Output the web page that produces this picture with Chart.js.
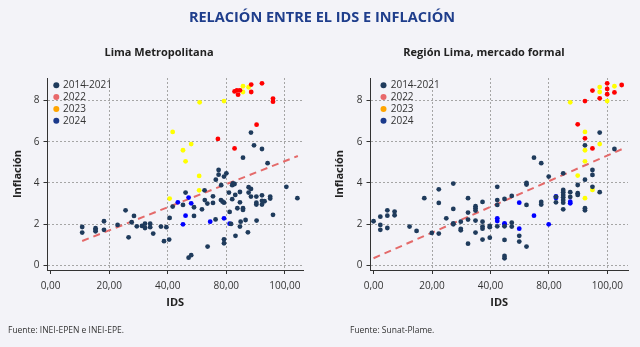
<!DOCTYPE html>
<html>
<head>
<meta charset="utf-8">
<script src="https://cdn.jsdelivr.net/npm/chart.js@4.4.1/dist/chart.umd.min.js"></script>
<style>
  body { margin: 0; background: #f3f3f8; font-family: 'Open Sans', sans-serif; }
  #wrap { position: relative; width: 640px; height: 347px; overflow: hidden; }
  canvas { position: absolute; top: 0; }
  .txt { position: absolute; white-space: nowrap; }
  .title { top: 7px; left: 2px; width: 640px; text-align: center; font-size: 14.5px; font-weight: 700; color: #1f3e8c; line-height: 20px; }
  .sub { top: 44px; width: 220px; text-align: center; font-size: 11px; font-weight: 700; color: #222; line-height: 16px; }
  .src { top: 323px; font-size: 8.5px; color: #333; line-height: 14px; }
</style>
</head>
<body>
<div id="wrap">
  <canvas id="chartLima" width="320" height="347" style="left:0"></canvas>
  <canvas id="chartRegion" width="320" height="347" style="left:320px"></canvas>
  <div class="txt title">RELACIÓN ENTRE EL IDS E INFLACIÓN</div>
  <div class="txt sub" style="left:49px">Lima Metropolitana</div>
  <div class="txt sub" style="left:374px">Región Lima, mercado formal</div>
  <div class="txt src" style="left:8px">Fuente: INEI-EPEN e INEI-EPE.</div>
  <div class="txt src" style="left:350px">Fuente: Sunat-Plame.</div>
</div>
<script>
const FONT = "'Open Sans', sans-serif";

// axis ticks (labels as printed on the original)
const xTicks = [0, 25, 50, 75, 100];
const xTickLabels = ['0,00', '20,00', '40,00', '80,00', '100,00'];
const yTicks = [0, 2, 4, 6, 8];
const yTickLabels = ['0', '2', '4', '6', '8'];

const legendLabels = ['2014-2021', '2022', '2023', '2024'];
const legendColors = ['#1f3b5c', '#e8686a', '#ffa500', '#1b3a8c'];
const pointColors = ['#1f3b5c', '#ff0000', '#ffff00', '#0000ff'];

// Lima Metropolitana: [IDS, inflacion]
const limaBase = [[13.5,1.86],[13.5,1.59],[19.2,1.80],[19.2,1.72],[19.2,1.65],[22.8,2.14],[22.8,1.72],[28.6,1.96],[32,2.67],[33.3,1.36],[35.6,2.40],[34.6,2.09],[36.8,1.89],[39,1.91],[40.3,1.81],[40.3,2.02],[42.5,2.02],[42.5,1.85],[43.8,1.54],[47.1,1.88],[48.4,1.17],[49.4,1.85],[50.6,1.25],[50.8,2.30],[52.1,2.85],[58.9,0.37],[60,0.49],[57.6,3.53],[56.5,2.93],[61.2,2.82],[61.2,2.40],[64.6,2.72],[65.7,3.64],[65.8,3.17],[66.9,3.0],[67,0.91],[69.3,3.35],[69.3,3.03],[70.4,2.23],[70.5,4.16],[71.7,4.63],[71.7,4.40],[72.7,3.17],[73.4,3.09],[74,3.04],[74,1.26],[74,1.07],[74,4.31],[75,4.47],[72.8,3.89],[76.1,3.53],[76.4,2.59],[77,2.01],[77.5,3.21],[77.5,3.89],[77.8,3.98],[78.5,3.95],[78.8,3.42],[78.9,1.43],[79.7,2.77],[80.8,3.56],[80.8,3.06],[80.8,1.88],[81.1,2.12],[82.1,5.23],[82.1,2.77],[82.1,2.69],[83.2,2.20],[84.2,1.60],[84.5,3.79],[84.5,3.53],[85.5,3.71],[85.5,3.34],[85.5,6.45],[86.8,5.83],[87.8,3.34],[87.8,3.04],[87.8,2.95],[87.9,2.17],[90.2,3.40],[90.2,3.13],[90.2,2.95],[90.2,5.65],[91.3,3.11],[92.6,4.96],[93.7,3.34],[93.7,3.24],[94.9,2.45],[100.6,3.81],[105.3,3.26]];
const lima2022 = [[71.4,6.14],[78.5,5.68],[87.9,6.83],[78.5,8.45],[79.5,8.50],[80.0,8.29],[80.8,8.50],[85.6,8.78],[85.6,8.42],[90.2,8.84],[94.9,8.10],[94.9,7.95]];
const lima2023 = [[63.6,7.92],[74.0,7.98],[82.1,8.70],[82.1,8.42],[84.5,8.65],[60.0,5.89],[56.5,5.59],[57.6,5.05],[52.1,6.48],[63.4,4.34],[63.4,3.64],[50.8,3.24]];
const lima2024 = [[54.3,3.06],[58.9,3.29],[60.0,3.01],[57.6,2.41],[56.5,1.99],[68.1,2.12],[74.0,2.28],[76.4,2.02]];
const limaTrend = [[13.5,1.18],[105.5,5.31]];

// Region Lima, mercado formal
const regBase = [[0,2.14],[2.9,2.36],[2.9,1.96],[2.9,1.72],[5.9,2.67],[5.9,2.41],[5.9,1.81],[9.0,2.61],[9.0,2.43],[15.4,1.88],[18.4,1.67],[21.7,3.26],[24.9,1.57],[27.9,3.69],[27.9,3.03],[27.9,1.54],[31.1,2.28],[34.1,3.97],[34.1,2.74],[34.1,2.04],[34.1,1.99],[37.3,2.12],[37.3,1.77],[37.3,1.70],[40.4,3.26],[40.4,2.56],[40.4,2.22],[40.4,1.05],[43.6,2.87],[43.6,2.77],[43.6,2.66],[43.6,2.17],[43.6,1.59],[46.6,3.08],[46.6,2.12],[46.6,1.88],[46.6,1.78],[46.6,1.25],[49.7,1.91],[49.7,1.85],[49.7,1.34],[52.9,3.81],[52.9,3.17],[52.9,2.93],[52.9,1.89],[56,3.22],[56,1.89],[56,1.23],[56,0.45],[56,0.34],[59.1,3.37],[59.1,2.07],[59.1,1.88],[62.3,1.43],[62.3,1.15],[65.4,4.00],[65.4,3.92],[65.4,2.93],[65.4,0.91],[68.6,5.23],[71.7,4.96],[71.7,3.08],[71.7,2.95],[74.9,4.31],[78,3.32],[78,3.06],[81.1,4.47],[81.1,3.66],[81.1,3.55],[81.1,3.42],[81.1,3.30],[81.1,3.17],[81.1,3.04],[81.1,2.72],[84.1,3.55],[84.1,3.32],[87.3,3.90],[87.3,3.50],[87.3,3.42],[90.4,5.83],[90.4,4.16],[90.4,2.77],[90.4,2.67],[93.6,4.63],[93.6,4.39],[93.6,3.81],[96.7,6.45],[96.7,3.55],[103,5.65]];
const reg2022 = [[87.3,6.85],[90.4,7.98],[90.4,6.17],[93.6,8.49],[93.6,5.68],[96.7,8.11],[99.9,8.84],[99.9,8.57],[99.9,8.31],[103,8.40],[106.1,8.76]];
const reg2023 = [[84.1,7.92],[90.4,6.48],[90.4,5.59],[90.4,5.05],[87.3,4.36],[90.4,3.26],[93.6,3.66],[96.7,5.89],[96.7,8.66],[96.7,8.42],[99.9,7.98],[103,8.70]];
const reg2024 = [[52.9,2.28],[52.9,2.15],[56,2.04],[56,1.98],[62.3,3.04],[62.3,1.78],[68.6,2.41],[74.9,1.99],[78,3.35],[78,3.27],[84.1,3.09],[84.1,3.01]];
const regTrend = [[0,0.34],[106.9,5.68]];

const toPts = arr => arr.map(([x, y]) => ({x, y}));

// legend drawn inside the plot area, top-left
const insideLegend = {
    id: 'insideLegend',
    afterDraw(chart, args, opts) {
        const {ctx, chartArea} = chart;
        ctx.save();
        ctx.font = '10px ' + FONT;
        ctx.textBaseline = 'middle';
        legendLabels.forEach((label, i) => {
            const y = chartArea.top + 7.3 + i * 11.8;
            ctx.fillStyle = legendColors[i];
            ctx.beginPath();
            ctx.arc(chartArea.left + opts.dotX, y, 3, 0, Math.PI * 2);
            ctx.fill();
            ctx.fillStyle = '#333';
            ctx.fillText(label, chartArea.left + opts.textX, y);
        });
        ctx.restore();
    }
};

function makeChart(canvasId, series, trend, opt) {
    const datasets = series.map((s, i) => ({
        data: toPts(s),
        backgroundColor: pointColors[i],
        borderWidth: 0,
        pointRadius: 2.4,
        pointHoverRadius: 2.4
    }));
    datasets.push({
        type: 'line',
        data: toPts(trend),
        borderColor: '#e46a6a',
        borderWidth: 2,
        borderDash: [7, 5],
        pointRadius: 0,
        fill: false
    });

    const gridBase = {
        lineWidth: 1,
        tickLength: 4,
        tickColor: '#333',
        tickWidth: 1,
        tickBorderDash: []
    };
    const border = { display: true, color: '#333', width: 1, dash: [2, 2] };

    return new Chart(document.getElementById(canvasId), {
        type: 'scatter',
        data: { datasets },
        plugins: [insideLegend],
        options: {
            responsive: false,
            animation: false,
            events: [],
            layout: { padding: { left: 0, right: opt.padRight, top: 78, bottom: 0 } },
            plugins: {
                tooltip: { enabled: false },
                legend: { display: false },
                insideLegend: { dotX: opt.dotX, textX: opt.textX }
            },
            scales: {
                x: {
                    type: 'linear',
                    min: opt.xMin,
                    max: opt.xMax,
                    afterBuildTicks: s => { s.ticks = xTicks.map(v => ({ value: v })); },
                    afterFit: s => { s.height = 77; },
                    ticks: {
                        callback: (v, i) => xTickLabels[i],
                        color: '#333',
                        font: { family: FONT, size: 10 },
                        padding: 6,
                        maxRotation: 0,
                        autoSkip: false
                    },
                    grid: Object.assign({
                        color: c => (c.tick && c.tick.value === 0) ? 'rgba(0,0,0,0)' : '#a5a5a5'
                    }, gridBase),
                    border: border,
                    title: {
                        display: true,
                        text: 'IDS',
                        color: '#222',
                        font: { family: FONT, size: 11, weight: 'bold' },
                        padding: { top: 0, bottom: 38 }
                    }
                },
                y: {
                    type: 'linear',
                    min: -0.23,
                    max: 9.1,
                    afterBuildTicks: s => { s.ticks = yTicks.map(v => ({ value: v })); },
                    afterFit: s => { s.width = opt.yWidth; },
                    ticks: {
                        callback: (v, i) => yTickLabels[i],
                        color: '#333',
                        font: { family: FONT, size: 10 },
                        padding: 4
                    },
                    grid: Object.assign({ color: '#a5a5a5' }, gridBase),
                    border: border,
                    title: {
                        display: true,
                        text: 'Inflación',
                        color: '#222',
                        font: { family: FONT, size: 11, weight: 'bold' },
                        padding: { top: opt.titlePad, bottom: 0 }
                    }
                }
            }
        }
    });
}

makeChart('chartLima', [limaBase, lima2022, lima2023, lima2024], limaTrend,
    { xMin: -1.3, xMax: 107.7, yWidth: 47.5, padRight: 17, titlePad: 11.4, dotX: 8.8, textX: 15.5 });
makeChart('chartRegion', [regBase, reg2022, reg2023, reg2024], regTrend,
    { xMin: -1.3, xMax: 108.8, yWidth: 50.5, padRight: 12, titlePad: 13.4, dotX: 13, textX: 20.2 });
</script>
</body>
</html>
